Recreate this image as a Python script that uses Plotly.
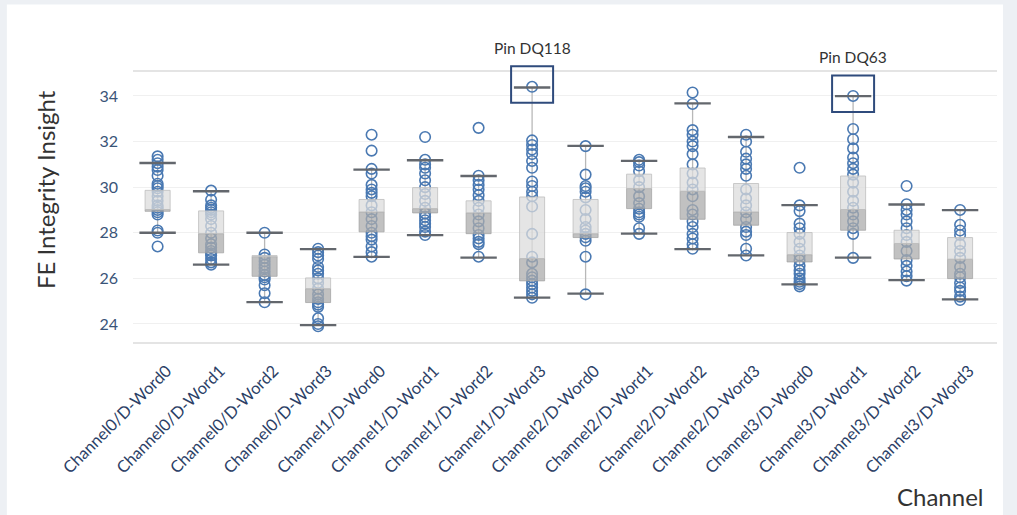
import numpy as np
import plotly.graph_objects as go

categories = ["Channel0/D-Word0", "Channel0/D-Word1", "Channel0/D-Word2", "Channel0/D-Word3",
              "Channel1/D-Word0", "Channel1/D-Word1", "Channel1/D-Word2", "Channel1/D-Word3",
              "Channel2/D-Word0", "Channel2/D-Word1", "Channel2/D-Word2", "Channel2/D-Word3",
              "Channel3/D-Word0", "Channel3/D-Word1", "Channel3/D-Word2", "Channel3/D-Word3"]

points = [
    [31.35, 31.2, 31.05, 30.9, 30.75, 30.5, 30.15, 30.05, 29.95, 29.8, 29.6, 29.4, 29.2, 29.1, 29.0, 28.9, 28.8, 28.1, 28.0, 27.4],
    [29.85, 29.45, 29.2, 29.1, 29.0, 28.9, 28.8, 28.6, 28.3, 28.0, 27.75, 27.5, 27.35, 27.2, 27.1, 27.0, 26.85, 26.7, 26.6],
    [28.0, 27.05, 26.9, 26.75, 26.6, 26.45, 26.3, 26.15, 26.05, 25.95, 25.7, 25.35, 24.95],
    [27.3, 27.15, 27.0, 26.85, 26.5, 26.35, 26.2, 26.0, 25.8, 25.55, 25.3, 25.1, 24.95, 24.85, 24.75, 24.25, 24.0, 23.9],
    [32.3, 31.6, 30.8, 30.6, 30.1, 29.9, 29.75, 29.6, 29.2, 28.9, 28.6, 28.3, 28.0, 27.85, 27.7, 27.4, 27.15, 26.95],
    [32.2, 31.2, 31.0, 30.85, 30.6, 30.3, 30.0, 29.7, 29.4, 29.1, 28.85, 28.7, 28.55, 28.4, 28.25, 28.05, 27.9],
    [32.6, 30.5, 30.3, 30.1, 29.9, 29.65, 29.4, 29.1, 28.8, 28.5, 28.2, 27.9, 27.75, 27.6, 27.5, 26.95],
    [34.4, 32.05, 31.85, 31.65, 31.45, 31.15, 30.85, 30.25, 30.05, 29.8, 29.6, 29.15, 27.95, 26.95, 26.7, 26.2, 26.05, 25.9, 25.75, 25.6, 25.45, 25.3, 25.15],
    [31.8, 30.55, 30.05, 29.95, 29.8, 29.55, 29.0, 28.6, 28.25, 28.1, 27.95, 27.8, 27.65, 26.95, 25.3],
    [31.2, 31.1, 30.95, 30.7, 30.3, 30.0, 29.6, 29.3, 29.05, 28.9, 28.8, 28.7, 28.2, 27.95],
    [34.15, 33.65, 32.5, 32.3, 32.0, 31.8, 31.45, 31.0, 30.6, 30.2, 29.9, 29.6, 29.0, 28.8, 28.5, 28.25, 27.95, 27.75, 27.5, 27.3],
    [32.3, 32.0, 31.55, 31.25, 31.0, 30.8, 30.5, 29.9, 29.5, 29.2, 28.9, 28.6, 28.25, 28.05, 27.9, 27.3, 27.0],
    [30.85, 29.2, 28.95, 28.4, 28.2, 27.95, 27.6, 27.3, 27.0, 26.8, 26.55, 26.35, 26.2, 26.0, 25.85, 25.75, 25.65],
    [34.0, 32.55, 32.1, 31.7, 31.3, 31.05, 30.8, 30.55, 30.2, 29.8, 29.4, 29.1, 28.8, 28.5, 28.2, 27.95, 26.9],
    [30.05, 29.25, 29.0, 28.8, 28.5, 28.2, 27.9, 27.6, 27.2, 26.8, 26.55, 26.3, 26.1, 25.9],
    [29.0, 28.35, 28.1, 27.9, 27.5, 27.2, 26.9, 26.5, 26.2, 26.05, 25.8, 25.6, 25.45, 25.2, 25.05],
]

whisker_low = [28.0, 26.6, 24.96, 23.95, 26.94, 27.9, 26.91, 25.16, 25.33, 27.96, 27.28, 27.01, 25.74, 26.91, 25.92, 25.08]
q1 = [28.94, 27.12, 26.09, 24.94, 28.04, 28.87, 27.96, 25.89, 27.79, 29.06, 28.59, 28.33, 26.72, 28.11, 26.85, 25.99]
median = [29.02, 27.96, 26.95, 25.55, 28.91, 29.06, 28.87, 26.87, 27.96, 29.94, 29.82, 28.91, 27.04, 29.02, 27.53, 26.84]
q3 = [29.86, 28.96, 27.0, 26.02, 29.46, 29.98, 29.4, 29.57, 29.46, 30.57, 30.84, 30.16, 28.01, 30.49, 28.11, 27.79]
whisker_high = [31.06, 29.82, 28.0, 27.28, 30.77, 31.18, 30.49, 34.37, 31.81, 31.15, 33.67, 32.2, 29.21, 33.99, 29.24, 28.99]

highlight_labels = {"Channel1/D-Word3": "Pin DQ118", "Channel3/D-Word1": "Pin DQ63"}

y_ticks = [24, 26, 28, 30, 32, 34]
y_range = [23.21, 35.05]

xi = np.arange(len(categories))
HALF = 0.234

fig = go.Figure()

# whisker vertical lines
wx, wy = [], []
for i in xi:
    wx += [i, i, None]
    wy += [whisker_low[i], whisker_high[i], None]
fig.add_trace(go.Scatter(x=wx, y=wy, mode="lines", line=dict(color="#b8b8b8", width=1.3),
                         hoverinfo="skip", showlegend=False))

# points
px, py = [], []
for i, vals in enumerate(points):
    px += [i] * len(vals)
    py += vals
fig.add_trace(go.Scatter(x=px, y=py, mode="markers",
                         marker=dict(symbol="circle-open", size=10.5, color="#4a79b2",
                                     line=dict(width=1.6, color="#4a79b2")),
                         showlegend=False))

# boxes (lower = darker, upper = lighter)
def box_poly(lo, hi):
    bx, by = [], []
    for i in xi:
        bx += [i - HALF, i + HALF, i + HALF, i - HALF, i - HALF, None]
        by += [lo[i], lo[i], hi[i], hi[i], lo[i], None]
    return bx, by

bx, by = box_poly(q1, median)
fig.add_trace(go.Scatter(x=bx, y=by, mode="lines", fill="toself",
                         fillcolor="rgba(172,172,172,0.74)",
                         line=dict(color="rgba(160,160,160,0.7)", width=1),
                         hoverinfo="skip", showlegend=False))
bx, by = box_poly(median, q3)
fig.add_trace(go.Scatter(x=bx, y=by, mode="lines", fill="toself",
                         fillcolor="rgba(220,220,220,0.74)",
                         line=dict(color="rgba(190,190,190,0.8)", width=1),
                         hoverinfo="skip", showlegend=False))

# caps
fig.add_trace(go.Scatter(x=list(xi) + list(xi), y=whisker_low + whisker_high, mode="markers",
                         marker=dict(symbol="line-ew", size=26, color="#63676d",
                                     line=dict(width=2.3, color="#63676d")),
                         hoverinfo="skip", showlegend=False))

# highlight rectangles and labels
for cat, label in highlight_labels.items():
    i = categories.index(cat)
    ymax = max(points[i])
    yfrac = (ymax - y_range[0]) / (y_range[1] - y_range[0])
    fig.add_shape(type="rect", xref="x", yref="paper", xsizemode="pixel", ysizemode="pixel",
                  xanchor=i, yanchor=yfrac, x0=-21, x1=21, y0=-16, y1=20.5,
                  line=dict(color="#2f4b7c", width=2), fillcolor="rgba(0,0,0,0)")
    fig.add_annotation(x=i, y=ymax, text=label, showarrow=False, yshift=39,
                       font=dict(size=15.5, color="#333333", family="Lato"))

# white card
fig.add_shape(type="rect", xref="paper", yref="paper", x0=-0.146, x1=1.007, y0=-0.8, y1=1.25,
              fillcolor="white", line=dict(width=0), layer="below")

fig.add_annotation(text="FE Integrity Insight", xref="paper", yref="paper", x=-0.102, y=0.566,
                   textangle=-90, showarrow=False, xanchor="center", yanchor="middle",
                   font=dict(size=24, color="#333333", family="Lato"))
fig.add_annotation(text="Channel", xref="paper", yref="paper", x=0.934, y=-0.571,
                   showarrow=False, xanchor="center", yanchor="middle",
                   font=dict(size=24, color="#333333", family="Lato"))

fig.update_layout(
    width=1017, height=515,
    margin=dict(l=133, r=20, t=72, b=173),
    paper_bgcolor="#edf0f4", plot_bgcolor="white",
    font=dict(family="Lato", size=14, color="#2b4066"),
    showlegend=False,
    xaxis=dict(range=[-0.46, 15.69], tickmode="array", tickvals=list(xi), ticktext=categories,
               tickangle=-45, showgrid=False, zeroline=False, automargin=False,
               showline=True, linecolor="#e4e4e4", linewidth=1.5, mirror=True,
               tickfont=dict(size=16.5, color="#2b4066"), ticks="",
               ticklabelstandoff=11, ticklabelshift=9),
    yaxis=dict(range=y_range, tickvals=y_ticks, showgrid=True, gridcolor="#f0f0f0",
               gridwidth=1, zeroline=False, showline=False, automargin=False,
               tickfont=dict(size=16, color="#3a5478"), ticklabelstandoff=14),
)

fig.write_html("out.html", config={"displayModeBar": False},
               post_script="document.body.style.margin='0';document.body.style.padding='0';")
